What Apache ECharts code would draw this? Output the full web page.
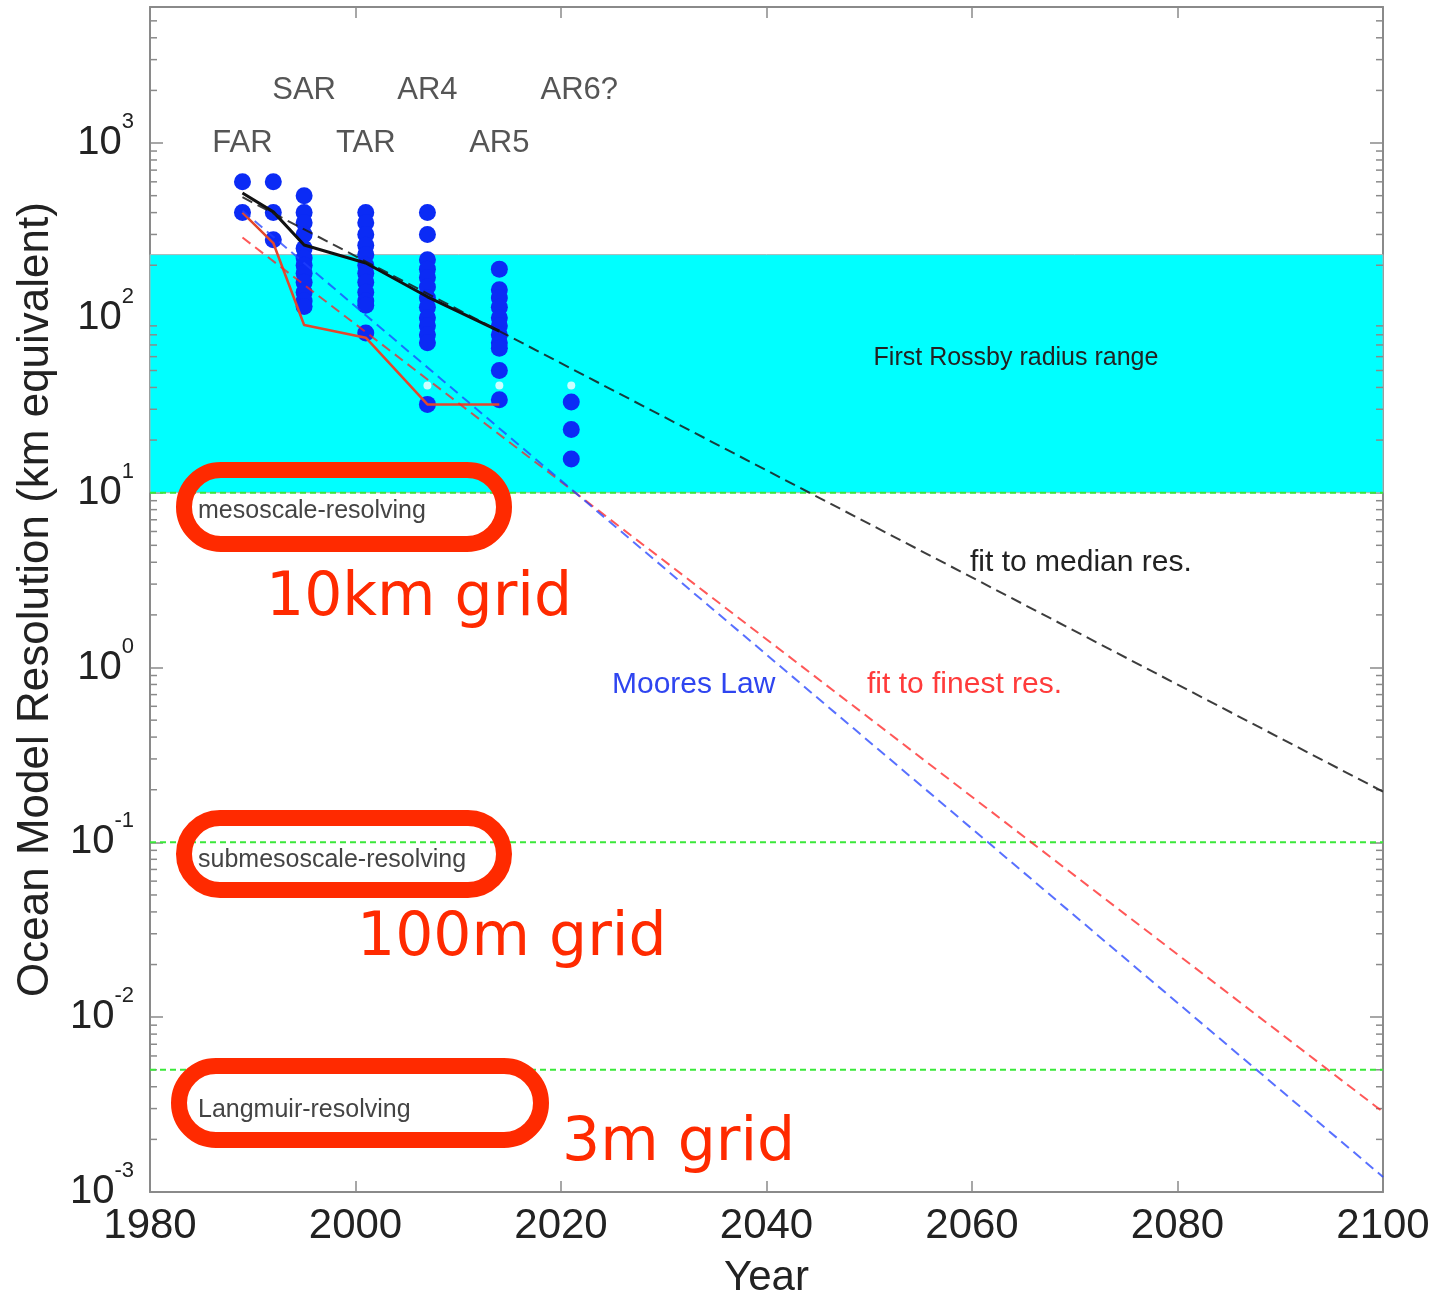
<!DOCTYPE html>
<html>
<head>
<meta charset="utf-8">
<title>Ocean model resolution</title>
<script src="https://cdn.jsdelivr.net/npm/echarts@6/dist/echarts.min.js"></script>
<style>
  html, body { margin: 0; padding: 0; background: #fff; }
  #chart { width: 1435px; height: 1295px; }
</style>
</head>
<body>
<div id="chart"></div>
<script>
// model resolution (km) per IPCC report year
var reportYears = [1989, 1992, 1995, 2001, 2007, 2014, 2021];
var modelRes = [
  [600, 400],
  [600, 400, 280],
  [500, 400, 350, 300, 250, 220, 200, 180, 160, 140, 125, 116],
  [400, 350, 300, 260, 230, 200, 180, 160, 140, 125, 118, 82],
  [400, 300, 215, 190, 170, 150, 130, 115, 100, 90, 80, 72, 32],
  [190, 145, 130, 115, 100, 90, 80, 72, 67, 50, 34],
  [33, 23, 15.6]
];
var faintYears = [2007, 2014, 2021];
var faintRes = [41, 41, 41];

// median / finest resolution per report
var lineYears = [1989, 1992, 1995, 2001, 2007, 2014];
var medianRes = [518, 404, 261, 206, 132, 84];
var finestRes = [400, 268, 91, 77, 32, 32];

// fitted trends (end points)
var fitYears = [1989, 2100];
var fitMedian = [490, 0.195];
var fitFinest = [288, 0.00287];
var mooresLaw = [410, 0.00122];

var reportNames = ['FAR', 'SAR', 'TAR', 'AR4', 'AR5', 'AR6?'];
var reportLabelYears = [1989, 1995, 2001, 2007, 2014, 2021];
var reportLabelRes = [1000, 2000, 1000, 2000, 1000, 2000];

var rossbyRange = [10, 230];
var resolvingLevels = [10, 0.1, 0.005];
var xRange = [1980, 2100];
var yDecades = [-3, -2, -1, 0, 1, 2, 3];
var yMin = 0.001, yMax = 6000;

var F = '"Liberation Sans", Arial, sans-serif';
var AX = '#8a8a8a';

var dots = [];
reportYears.forEach(function (y, i) {
  modelRes[i].forEach(function (v) { dots.push([y, v]); });
});
function pairs(xs, ys) { return xs.map(function (x, i) { return [x, ys[i]]; }); }

// minor ticks 2..9 in every decade
var minor = [];
yDecades.forEach(function (d) {
  for (var m = 2; m <= 9; m++) {
    var v = m * Math.pow(10, d);
    if (v < yMax) minor.push([xRange[0], v]);
  }
});

var chart = echarts.init(document.getElementById('chart'));

var levelSeries = resolvingLevels.map(function (v, i) {
  return {
    name: 'level ' + i, type: 'line', z: 2, silent: true, symbol: 'none',
    lineStyle: { color: '#3ae83a', type: [6, 4], width: 2 },
    data: pairs(xRange, [v, v])
  };
});

var option = {
  animation: false,
  backgroundColor: '#fff',
  grid: { left: 150, right: 52, top: 7, bottom: 103, outerBoundsMode: 'none' },
  xAxis: [{
    type: 'value', min: xRange[0], max: xRange[1], interval: 20,
    name: 'Year', nameLocation: 'middle', nameGap: 65,
    nameTextStyle: { fontSize: 42, fontFamily: F, color: '#222' },
    axisLine: { lineStyle: { color: AX, width: 2 } },
    axisTick: { inside: true, length: 11, lineStyle: { color: AX, width: 1.5 } },
    axisLabel: { fontSize: 42, fontFamily: F, color: '#222', margin: 13, formatter: function (v) { return String(v); } },
    splitLine: { show: false }
  }, {
    type: 'value', min: xRange[0], max: xRange[1], interval: 20, position: 'top',
    axisLine: { lineStyle: { color: AX, width: 2 } },
    axisTick: { inside: true, length: 11, lineStyle: { color: AX, width: 1.5 } },
    axisLabel: { show: false },
    splitLine: { show: false }
  }],
  yAxis: [{
    type: 'log', logBase: 10, min: yMin, max: yMax,
    name: 'Ocean Model Resolution (km equivalent)', nameLocation: 'middle', nameGap: 92,
    nameTextStyle: { fontSize: 44, fontFamily: F, color: '#222' },
    axisLine: { lineStyle: { color: AX, width: 2 } },
    axisTick: { inside: true, length: 13, lineStyle: { color: AX, width: 1.5 } },
    axisLabel: {
      margin: 16,
      formatter: function (v) {
        var e = Math.log10(v), r = Math.round(e);
        if (Math.abs(e - r) > 1e-6) return '';
        return '{b|10}{s|' + r + '}';
      },
      rich: {
        b: { fontSize: 40, fontFamily: F, color: '#222', lineHeight: 64 },
        s: { fontSize: 22, fontFamily: F, color: '#222', lineHeight: 22, verticalAlign: 'top' }
      }
    },
    splitLine: { show: false }
  }, {
    type: 'log', logBase: 10, min: yMin, max: yMax, position: 'right',
    axisLine: { lineStyle: { color: AX, width: 2 } },
    axisTick: { inside: true, length: 13, lineStyle: { color: AX, width: 1.5 } },
    axisLabel: { show: false },
    splitLine: { show: false }
  }],
  series: [{
    name: 'band', type: 'line', data: [], z: 1, silent: true,
    markArea: {
      silent: true,
      itemStyle: { color: '#00ffff', borderColor: '#a8b4b4', borderWidth: 1 },
      data: [[{ yAxis: rossbyRange[0] }, { yAxis: rossbyRange[1] }]]
    }
  }].concat(levelSeries, [{
    name: 'minor ticks', type: 'custom', z: 2, silent: true,
    data: minor,
    encode: { x: 0, y: 1 },
    renderItem: function (params, api) {
      var v = api.value(1);
      var l = api.coord([xRange[0], v]);
      var r = api.coord([xRange[1], v]);
      var st = { stroke: AX, lineWidth: 1.5 };
      return {
        type: 'group',
        children: [
          { type: 'line', shape: { x1: l[0], y1: l[1], x2: l[0] + 7, y2: l[1] }, style: st },
          { type: 'line', shape: { x1: r[0], y1: r[1], x2: r[0] - 7, y2: r[1] }, style: st }
        ]
      };
    }
  }, {
    name: 'models', type: 'scatter', z: 3, silent: true,
    symbolSize: 17,
    itemStyle: { color: '#0b2bf5', opacity: 1 },
    data: dots
  }, {
    name: 'faint', type: 'scatter', z: 3, silent: true,
    symbol: 'emptyCircle', symbolSize: 8,
    itemStyle: { color: 'rgba(0,0,0,0)', borderColor: '#5f82ff', borderWidth: 1.5, opacity: 0.8 },
    data: pairs(faintYears, faintRes)
  }, {
    name: 'median', type: 'line', z: 5, silent: true, symbol: 'none',
    lineStyle: { color: '#111', width: 3 },
    data: pairs(lineYears, medianRes)
  }, {
    name: 'finest', type: 'line', z: 5, silent: true, symbol: 'none',
    lineStyle: { color: '#e2472c', width: 2.5 },
    data: pairs(lineYears, finestRes)
  }, {
    name: 'fit median', type: 'line', z: 6, silent: true, symbol: 'none',
    lineStyle: { color: '#1a1a1a', width: 2, type: [11, 6], opacity: 0.85 },
    data: pairs(fitYears, fitMedian)
  }, {
    name: 'fit finest', type: 'line', z: 6, silent: true, symbol: 'none',
    lineStyle: { color: '#ff2020', width: 2, type: [10, 6], opacity: 0.75 },
    data: pairs(fitYears, fitFinest)
  }, {
    name: 'moores law', type: 'line', z: 6, silent: true, symbol: 'none',
    lineStyle: { color: '#2040ff', width: 2, type: [10, 6], opacity: 0.75 },
    data: pairs(fitYears, mooresLaw)
  }, {
    name: 'reports', type: 'scatter', z: 7, silent: true,
    symbolSize: 1, itemStyle: { color: 'rgba(0,0,0,0)' },
    label: {
      show: true, position: 'inside',
      fontSize: 31, fontFamily: F, color: '#2a2a2a',
      formatter: function (p) { return p.name; }
    },
    data: reportNames.map(function (n, i) {
      return { name: n, value: [reportLabelYears[i], reportLabelRes[i]], label: n === 'AR6?' ? { offset: [8, 0] } : undefined };
    })
  }]),
  graphic: [
    { type: 'text', x: 1016, y: 358, z: 10, style: { text: 'First Rossby radius range', fill: '#222', fontSize: 25, fontFamily: F, align: 'center', verticalAlign: 'middle' } },
    { type: 'text', x: 970, y: 563, z: 10, style: { text: 'fit to median res.', fill: '#222', fontSize: 30, fontFamily: F, align: 'left', verticalAlign: 'middle' } },
    { type: 'text', x: 612, y: 685, z: 10, style: { text: 'Moores Law', fill: '#2f45f0', fontSize: 30, fontFamily: F, align: 'left', verticalAlign: 'middle' } },
    { type: 'text', x: 867, y: 685, z: 10, style: { text: 'fit to finest res.', fill: '#ff3b3b', fontSize: 30, fontFamily: F, align: 'left', verticalAlign: 'middle' } },
    { type: 'text', x: 198, y: 511, z: 10, style: { text: 'mesoscale-resolving', fill: '#444', fontSize: 25, fontFamily: F, align: 'left', verticalAlign: 'middle' } },
    { type: 'text', x: 198, y: 860, z: 10, style: { text: 'submesoscale-resolving', fill: '#444', fontSize: 25, fontFamily: F, align: 'left', verticalAlign: 'middle' } },
    { type: 'text', x: 198, y: 1110, z: 10, style: { text: 'Langmuir-resolving', fill: '#444', fontSize: 25, fontFamily: F, align: 'left', verticalAlign: 'middle' } },
    { type: 'rect', z: 11, shape: { x: 184, y: 470, width: 320, height: 74, r: 37 }, style: { fill: 'none', stroke: '#ff2a00', lineWidth: 16 } },
    { type: 'rect', z: 11, shape: { x: 184, y: 818, width: 320, height: 72, r: 36 }, style: { fill: 'none', stroke: '#ff2a00', lineWidth: 16 } },
    { type: 'rect', z: 11, shape: { x: 179, y: 1066, width: 362, height: 74, r: 37 }, style: { fill: 'none', stroke: '#ff2a00', lineWidth: 16 } },
    { type: 'text', x: 266, y: 599, z: 11, style: { text: '10km grid', fill: '#ff2a00', fontSize: 60, fontFamily: '"DejaVu Sans", sans-serif', align: 'left', verticalAlign: 'middle' } },
    { type: 'text', x: 357, y: 939, z: 11, style: { text: '100m grid', fill: '#ff2a00', fontSize: 60, fontFamily: '"DejaVu Sans", sans-serif', align: 'left', verticalAlign: 'middle' } },
    { type: 'text', x: 562, y: 1144, z: 11, style: { text: '3m grid', fill: '#ff2a00', fontSize: 60, fontFamily: '"DejaVu Sans", sans-serif', align: 'left', verticalAlign: 'middle' } }
  ]
};

chart.setOption(option);
</script>
</body>
</html>
